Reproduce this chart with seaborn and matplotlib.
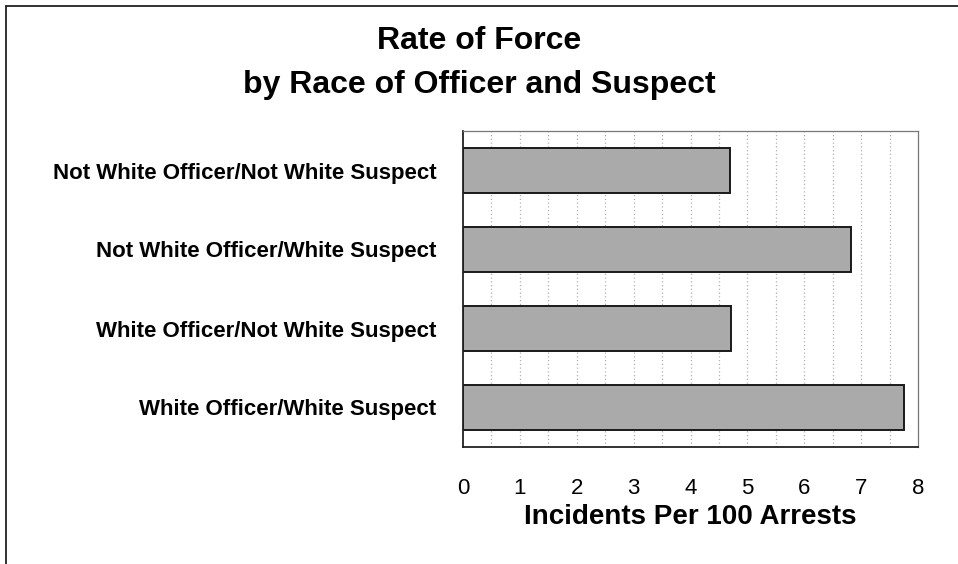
import matplotlib
matplotlib.use("Agg")
import matplotlib.pyplot as plt
from matplotlib.lines import Line2D
import seaborn as sns
import pandas as pd

# Officer/suspect race pairings, listed top to bottom
categories = [
    "Not White Officer/Not White Suspect",
    "Not White Officer/White Suspect",
    "White Officer/Not White Suspect",
    "White Officer/White Suspect",
]
# Incidents of force per 100 arrests
rates = [4.70, 6.83, 4.72, 7.76]
x_ticks = [0, 1, 2, 3, 4, 5, 6, 7, 8]

title_lines = ["Rate of Force", "by Race of Officer and Suspect"]
x_label = "Incidents Per 100 Arrests"

sns.set_theme(style="white")
plt.rcParams["font.family"] = ["Liberation Sans", "DejaVu Sans"]

df = pd.DataFrame({"pair": categories, "rate": rates})

fig = plt.figure(figsize=(9.58, 5.64), dpi=100)
fig.patch.set_facecolor("white")
ax = fig.add_axes([463 / 958, 1 - 447 / 564, (918 - 463) / 958, (447 - 131) / 564])

# dotted half-unit grid behind the bars
for gx in [i * 0.5 for i in range(1, 16)]:
    ax.axvline(gx, color="#b0b0b0", linestyle=(0, (1, 2)), linewidth=0.9, zorder=0)

sns.barplot(data=df, x="rate", y="pair", orient="h", order=categories,
            color="#aaaaaa", saturation=1, edgecolor="#1a1a1a", linewidth=1.4,
            width=0.56, ax=ax, zorder=2)

ax.set_xlim(0, 8)
ax.set_ylim(3.5, -0.5)
ax.set_xticks(x_ticks)
ax.set_xticklabels([str(t) for t in x_ticks], fontsize=16)
ax.tick_params(axis="x", length=0, pad=22, colors="black")
ax.tick_params(axis="y", length=0, pad=19)
for lbl in ax.get_yticklabels():
    lbl.set_fontsize(16)
    lbl.set_fontweight("bold")
    lbl.set_color("black")

ax.set_ylabel("")
ax.set_xlabel(x_label, fontsize=20, fontweight="bold", labelpad=4, color="black")

for side, sp in ax.spines.items():
    sp.set_visible(True)
    sp.set_color("#222222" if side in ("left", "bottom") else "#777777")
    sp.set_linewidth(1.3 if side in ("left", "bottom") else 0.9)

# two-line title
fig.text(479 / 958, 1 - 49 / 564, title_lines[0], ha="center", va="baseline",
         fontsize=23, fontweight="bold", color="black")
fig.text(479 / 958, 1 - 93 / 564, title_lines[1], ha="center", va="baseline",
         fontsize=23, fontweight="bold", color="black")

# outer frame on the left and top edges
fig.add_artist(Line2D([6 / 958, 6 / 958], [0, 1 - 6 / 564], transform=fig.transFigure,
                      color="#222222", linewidth=1.3))
fig.add_artist(Line2D([6 / 958, 1], [1 - 6 / 564, 1 - 6 / 564], transform=fig.transFigure,
                      color="#222222", linewidth=1.3))

fig.savefig("out.png", dpi=100, facecolor="white")
